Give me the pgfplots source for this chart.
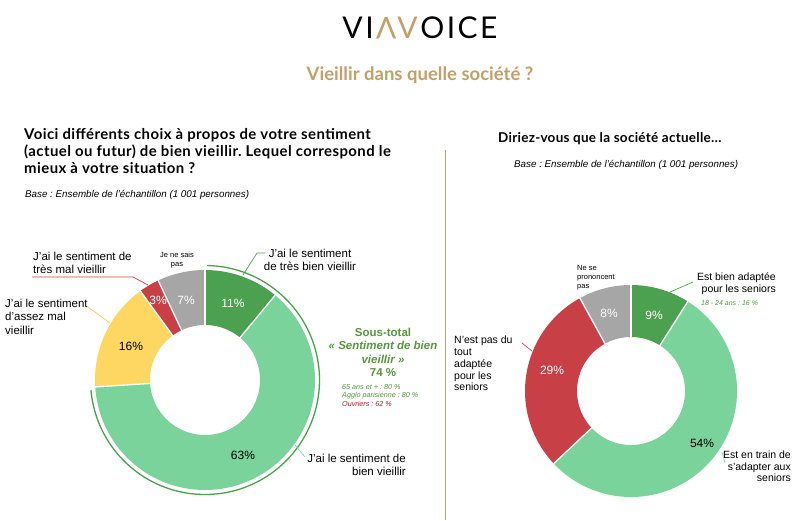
\documentclass[border=0pt]{standalone}
\usepackage{fontspec}
\setmainfont{Liberation Sans}
\newfontfamily\lato{Lato}
\newfontfamily\latoA{Lato}[LetterSpace=3]
\newfontfamily\latoB{Lato}[LetterSpace=2]
\usepackage{pgfplots}
\pgfplotsset{compat=1.18}
\frenchspacing
\definecolor{dgreen}{RGB}{76,161,80}
\definecolor{lgreen}{RGB}{122,211,155}
\definecolor{yel}{RGB}{253,215,98}
\definecolor{red1}{RGB}{200,64,70}
\definecolor{gry}{RGB}{166,166,166}
\definecolor{gold}{RGB}{196,160,104}
\definecolor{tgreen}{RGB}{86,150,58}
\definecolor{tred}{RGB}{190,20,40}
\newcommand{\fs}[2]{\fontsize{#1}{#2}\selectfont}
\begin{document}
\begin{tikzpicture}
\begin{axis}[scale only axis, width=802pt, height=520pt,
  xmin=0, xmax=802, ymin=0, ymax=520, y dir=reverse,
  hide axis, clip=false]
% ---------- left donut: centre (205,380), r=55, R=110 ----------
% shares (%): 11, 63, 16, 3, 7 (clockwise from top)
\addplot[dgreen, line width=55pt, domain={0*3.6}:{11*3.6}, samples=40] ({205+82.5*sin(x)}, {380-82.5*cos(x)});
\addplot[lgreen, line width=55pt, domain={11*3.6}:{74*3.6}, samples=120] ({205+82.5*sin(x)}, {380-82.5*cos(x)});
\addplot[yel, line width=55pt, domain={74*3.6}:{90*3.6}, samples=40] ({205+82.5*sin(x)}, {380-82.5*cos(x)});
\addplot[red1, line width=55pt, domain={90*3.6}:{93*3.6}, samples=10] ({205+82.5*sin(x)}, {380-82.5*cos(x)});
\addplot[gry, line width=55pt, domain={93*3.6}:{100*3.6}, samples=30] ({205+82.5*sin(x)}, {380-82.5*cos(x)});
\foreach \b in {0,11,74,90,93}{
  \addplot[white, line width=1.3pt, domain=54:111, samples=2] ({205+x*sin(\b*3.6)}, {380-x*cos(\b*3.6)});
}
% outer sub-total arc (11 + 63 = 74 %)
\addplot[dgreen, line width=1.3pt, domain={0.3*3.6}:{73.6*3.6}, samples=150] ({205+114.5*sin(x)}, {380-114.5*cos(x)});
% ---------- right donut: centre (631,391), r=54, R=106 ----------
% shares (%): 9, 54, 29, 8
\addplot[dgreen, line width=52pt, domain={0*3.6}:{9*3.6}, samples=40] ({631+80*sin(x)}, {391-80*cos(x)});
\addplot[lgreen, line width=52pt, domain={9*3.6}:{63*3.6}, samples=120] ({631+80*sin(x)}, {391-80*cos(x)});
\addplot[red1, line width=52pt, domain={63*3.6}:{92*3.6}, samples=60] ({631+80*sin(x)}, {391-80*cos(x)});
\addplot[gry, line width=52pt, domain={92*3.6}:{100*3.6}, samples=30] ({631+80*sin(x)}, {391-80*cos(x)});
\foreach \b in {0,9,63,92}{
  \addplot[white, line width=1.3pt, domain=53:107, samples=2] ({631+x*sin(\b*3.6)}, {391-x*cos(\b*3.6)});
}
% ---------- header ----------
\node[inner sep=0, font=\lato\fs{30}{30}] at (axis cs:420,28)
  {V\hspace{2.5pt}I\hspace{2.5pt}\textcolor{gold}{\rotatebox[origin=c]{180}{V}\hspace{1pt}V}\hspace{2.5pt}O\hspace{2.5pt}I\hspace{2.5pt}C\hspace{2.5pt}E};
\node[inner sep=0, text=gold, font=\lato\bfseries\fs{18.5}{20}] at (axis cs:420,75) {Vieillir dans quelle société ?};
\draw[gold, line width=0.8pt] (axis cs:445,150) -- (axis cs:445,520);
% ---------- left texts ----------
\node[inner sep=0, anchor=west, align=left, font=\latoA\bfseries\fs{14.9}{17}] at (axis cs:24,151)
  {Voici différents choix à propos de votre sentiment\\(actuel ou futur) de bien vieillir. Lequel correspond le\\mieux à votre situation ?};
\node[inner sep=0, anchor=west, font=\itshape\fs{9.8}{11}] at (axis cs:25,195) {Base : Ensemble de l’échantillon (1 001 personnes)};
\node[inner sep=0, align=center, font=\fs{11.5}{13}] at (axis cs:310,260) {J’ai le sentiment\\de très bien vieillir};
\draw[dgreen, line width=0.7pt] (axis cs:265,253) -- (axis cs:257,253) -- (axis cs:243,275);
\node[inner sep=0, anchor=west, align=left, font=\fs{11.5}{13}] at (axis cs:33,262.5) {J’ai le sentiment de\\très mal vieillir};
\draw[red1, line width=0.7pt] (axis cs:32,277) -- (axis cs:133,277) -- (axis cs:148,285);
\node[inner sep=0, align=center, font=\fs{7.5}{9}] at (axis cs:177,260.5) {Je ne sais\\pas};
\node[inner sep=0, anchor=west, align=left, font=\fs{11.5}{13.5}] at (axis cs:5,316.5) {J’ai le sentiment\\d’assez mal\\vieillir};
\draw[yel!85!orange, line width=0.7pt] (axis cs:88,307) -- (axis cs:110,323);
\node[inner sep=0, anchor=east, align=right, font=\fs{11.5}{13}] at (axis cs:406,464.5) {J’ai le sentiment de\\bien vieillir};
\draw[lgreen, line width=0.7pt] (axis cs:295,445) -- (axis cs:305,457);
\node[inner sep=0, align=center, text=tgreen, font=\bfseries\fs{11.5}{13.3}] at (axis cs:383,352.5)
  {Sous-total\\\textit{« Sentiment de bien}\\\textit{vieillir »}\\74 \%};
\node[inner sep=0, anchor=west, align=left, font=\itshape\fs{7.2}{8.5}] at (axis cs:342,395.5)
  {\textcolor{tgreen}{65 ans et + : 80 \%}\\\textcolor{tgreen}{Agglo parisienne : 80 \%}\\\textcolor{tred}{Ouvriers : 62 \%}};
% sector labels left
\node[text=white, font=\fs{12}{12}] at (axis cs:233,303) {11\%};
\node[text=black, font=\fs{12}{12}] at (axis cs:243,455) {63\%};
\node[text=black, font=\fs{12}{12}] at (axis cs:131,346) {16\%};
\node[text=white, font=\fs{12}{12}] at (axis cs:158,300) {3\%};
\node[text=white, font=\fs{12}{12}] at (axis cs:186,300) {7\%};
% ---------- right texts ----------
\node[inner sep=0, anchor=west, font=\latoB\bfseries\fs{13.5}{17}] at (axis cs:498,139) {Diriez-vous que la société actuelle…};
\node[inner sep=0, anchor=west, font=\itshape\fs{9.8}{11}] at (axis cs:514,165) {Base : Ensemble de l’échantillon (1 001 personnes)};
\node[inner sep=0, anchor=west, align=left, font=\fs{7.5}{9}] at (axis cs:577,278) {Ne se\\prononcent\\pas};
\node[inner sep=0, anchor=east, align=right, font=\fs{10.5}{11.5}] at (axis cs:776,283.5) {Est bien adaptée\\pour les seniors};
\node[inner sep=0, anchor=west, text=tgreen, font=\itshape\fs{7}{8}] at (axis cs:701,303) {18 - 24 ans : 16 \%};
\draw[dgreen, line width=0.7pt] (axis cs:693,282) -- (axis cs:670,292);
\node[inner sep=0, anchor=west, align=left, font=\fs{10.5}{11.8}] at (axis cs:454,363.5) {N’est pas du\\tout\\adaptée\\pour les\\seniors};
\draw[red1, line width=0.7pt] (axis cs:522,343) -- (axis cs:532,351);
\node[inner sep=0, anchor=east, align=right, font=\fs{10.5}{11.5}] at (axis cs:791,466.5) {Est en train de\\s’adapter aux\\seniors};
\draw[lgreen, line width=0.7pt] (axis cs:722,452) -- (axis cs:725,463);
% sector labels right
\node[text=white, font=\fs{12}{12}] at (axis cs:609,313) {8\%};
\node[text=white, font=\fs{12}{12}] at (axis cs:654,315) {9\%};
\node[text=white, font=\fs{12}{12}] at (axis cs:552,370) {29\%};
\node[text=black, font=\fs{12}{12}] at (axis cs:702,443) {54\%};
\end{axis}
\pgfresetboundingbox
\useasboundingbox (0,0) rectangle (802pt,520pt);
\end{tikzpicture}
\end{document}
